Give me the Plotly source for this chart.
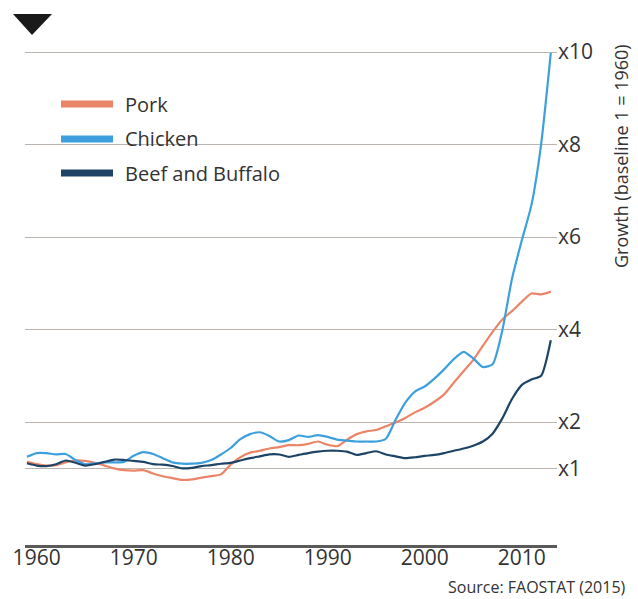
"""
Growth of meat production since 1960 (Pork, Chicken, Beef and Buffalo).
"""

import plotly.graph_objects as go

years = list(range(1959, 2014))

pork = [1.14, 1.09, 1.06, 1.07, 1.13, 1.17, 1.16, 1.12, 1.06, 1.00,
        0.96, 0.95, 0.96, 0.89, 0.83, 0.79, 0.75, 0.76, 0.80, 0.83,
        0.87, 1.08, 1.24, 1.34, 1.38, 1.43, 1.46, 1.50, 1.50, 1.53,
        1.58, 1.51, 1.48, 1.62, 1.74, 1.80, 1.83, 1.91, 1.99, 2.09,
        2.21, 2.31, 2.44, 2.60, 2.85, 3.10, 3.34, 3.65, 3.95, 4.22,
        4.40, 4.60, 4.78, 4.76, 4.82]

chicken = [1.25, 1.33, 1.33, 1.30, 1.31, 1.18, 1.09, 1.11, 1.13, 1.13,
           1.14, 1.27, 1.35, 1.31, 1.22, 1.13, 1.10, 1.10, 1.12, 1.18,
           1.30, 1.44, 1.63, 1.74, 1.78, 1.70, 1.58, 1.61, 1.71, 1.68,
           1.72, 1.68, 1.62, 1.60, 1.58, 1.58, 1.58, 1.64, 2.05, 2.42,
           2.66, 2.77, 2.94, 3.14, 3.36, 3.52, 3.38, 3.19, 3.25, 3.98,
           5.10, 5.92, 6.69, 8.00, 9.98]

beef = [1.11, 1.06, 1.05, 1.09, 1.17, 1.12, 1.06, 1.09, 1.14, 1.19,
        1.18, 1.16, 1.14, 1.09, 1.08, 1.05, 1.00, 1.01, 1.05, 1.07,
        1.10, 1.12, 1.17, 1.22, 1.26, 1.30, 1.30, 1.25, 1.29, 1.33,
        1.36, 1.38, 1.38, 1.36, 1.29, 1.33, 1.37, 1.30, 1.26, 1.22,
        1.24, 1.27, 1.29, 1.33, 1.38, 1.43, 1.49, 1.58, 1.75, 2.08,
        2.50, 2.80, 2.92, 3.00, 3.77]

series_names = ['Pork', 'Chicken', 'Beef and Buffalo']
series_values = [pork, chicken, beef]
series_colors = ['#EA8568', '#3DA0DC', '#1D4466']

x_tick_vals = [1960, 1970, 1980, 1990, 2000, 2010]
y_tick_vals = [1, 2, 4, 6, 8, 10]
y_tick_text = ['x1', 'x2', 'x4', 'x6', 'x8', 'x10']

FONT = 'Open Sans'
TEXT_COLOR = '#333333'

# plot area in pixels: x 25..557, y 40..545
L, R, T, B = 25, 81, 40, 54
W, H = 638, 599
PW, PH = W - L - R, H - T - B


def px_x(px):
    return (px - L) / PW


def px_y(py):
    return (H - B - py) / PH


fig = go.Figure()
for name, vals, color in zip(series_names, series_values, series_colors):
    fig.add_trace(go.Scatter(
        x=years, y=vals, mode='lines', name=name, showlegend=False,
        line=dict(color=color, width=2.2, shape='spline', smoothing=0.6),
    ))

shapes = []
# white box behind the legend (hides the gridline)
shapes.append(dict(type='rect', xref='paper', yref='paper',
                   x0=px_x(42), x1=px_x(226), y0=px_y(190), y1=px_y(86),
                   fillcolor='white', line=dict(width=0), layer='between'))
# black triangle marker at the top left
shapes.append(dict(type='path', xref='paper', yref='paper',
                   path=f'M {px_x(13)},{px_y(14)} L {px_x(52)},{px_y(14)} '
                        f'L {px_x(32)},{px_y(35)} Z',
                   fillcolor='#1a1a1a', line=dict(width=0)))

annotations = []
legend_rows = [104, 139, 173]
for name, color, row in zip(series_names, series_colors, legend_rows):
    shapes.append(dict(type='line', xref='paper', yref='paper',
                       x0=px_x(61), x1=px_x(113), y0=px_y(row), y1=px_y(row),
                       line=dict(color=color, width=7)))
    annotations.append(dict(x=px_x(123), y=px_y(row), xref='paper', yref='paper',
                            text=name, showarrow=False, xanchor='left',
                            yanchor='middle',
                            font=dict(family=FONT, size=20, color=TEXT_COLOR)))

annotations.append(dict(x=px_x(621), y=px_y(156), xref='paper', yref='paper',
                        text='Growth (baseline 1 = 1960)', showarrow=False,
                        textangle=-90, xanchor='center', yanchor='middle',
                        font=dict(family=FONT, size=18, color=TEXT_COLOR)))
annotations.append(dict(x=px_x(628), y=px_y(587), xref='paper', yref='paper',
                        text='Source: FAOSTAT (2015)', showarrow=False,
                        xanchor='right', yanchor='middle',
                        font=dict(family=FONT, size=16, color=TEXT_COLOR)))

fig.update_layout(
    width=W, height=H,
    margin=dict(l=L, r=R, t=T, b=B),
    paper_bgcolor='white', plot_bgcolor='white',
    font=dict(family=FONT, color=TEXT_COLOR),
    shapes=shapes, annotations=annotations,
)
fig.update_xaxes(
    range=[1958.8, 2013.64],
    tickvals=x_tick_vals, ticks='', showgrid=False, zeroline=False,
    showline=True, linecolor='#5a5a5a', linewidth=2.5,
    ticklabelstandoff=-8,
    tickfont=dict(family=FONT, size=21, color=TEXT_COLOR),
)
fig.update_yaxes(
    range=[-0.657, 10.26], side='right',
    tickvals=y_tick_vals, ticktext=y_tick_text, ticks='',
    showgrid=True, gridcolor='#bdb5b0', gridwidth=1.4, zeroline=False,
    showline=False,
    tickfont=dict(family=FONT, size=21, color=TEXT_COLOR),
)

fig.write_html('out.html', config={'displayModeBar': False},
               post_script="document.body.style.margin = '0';")
